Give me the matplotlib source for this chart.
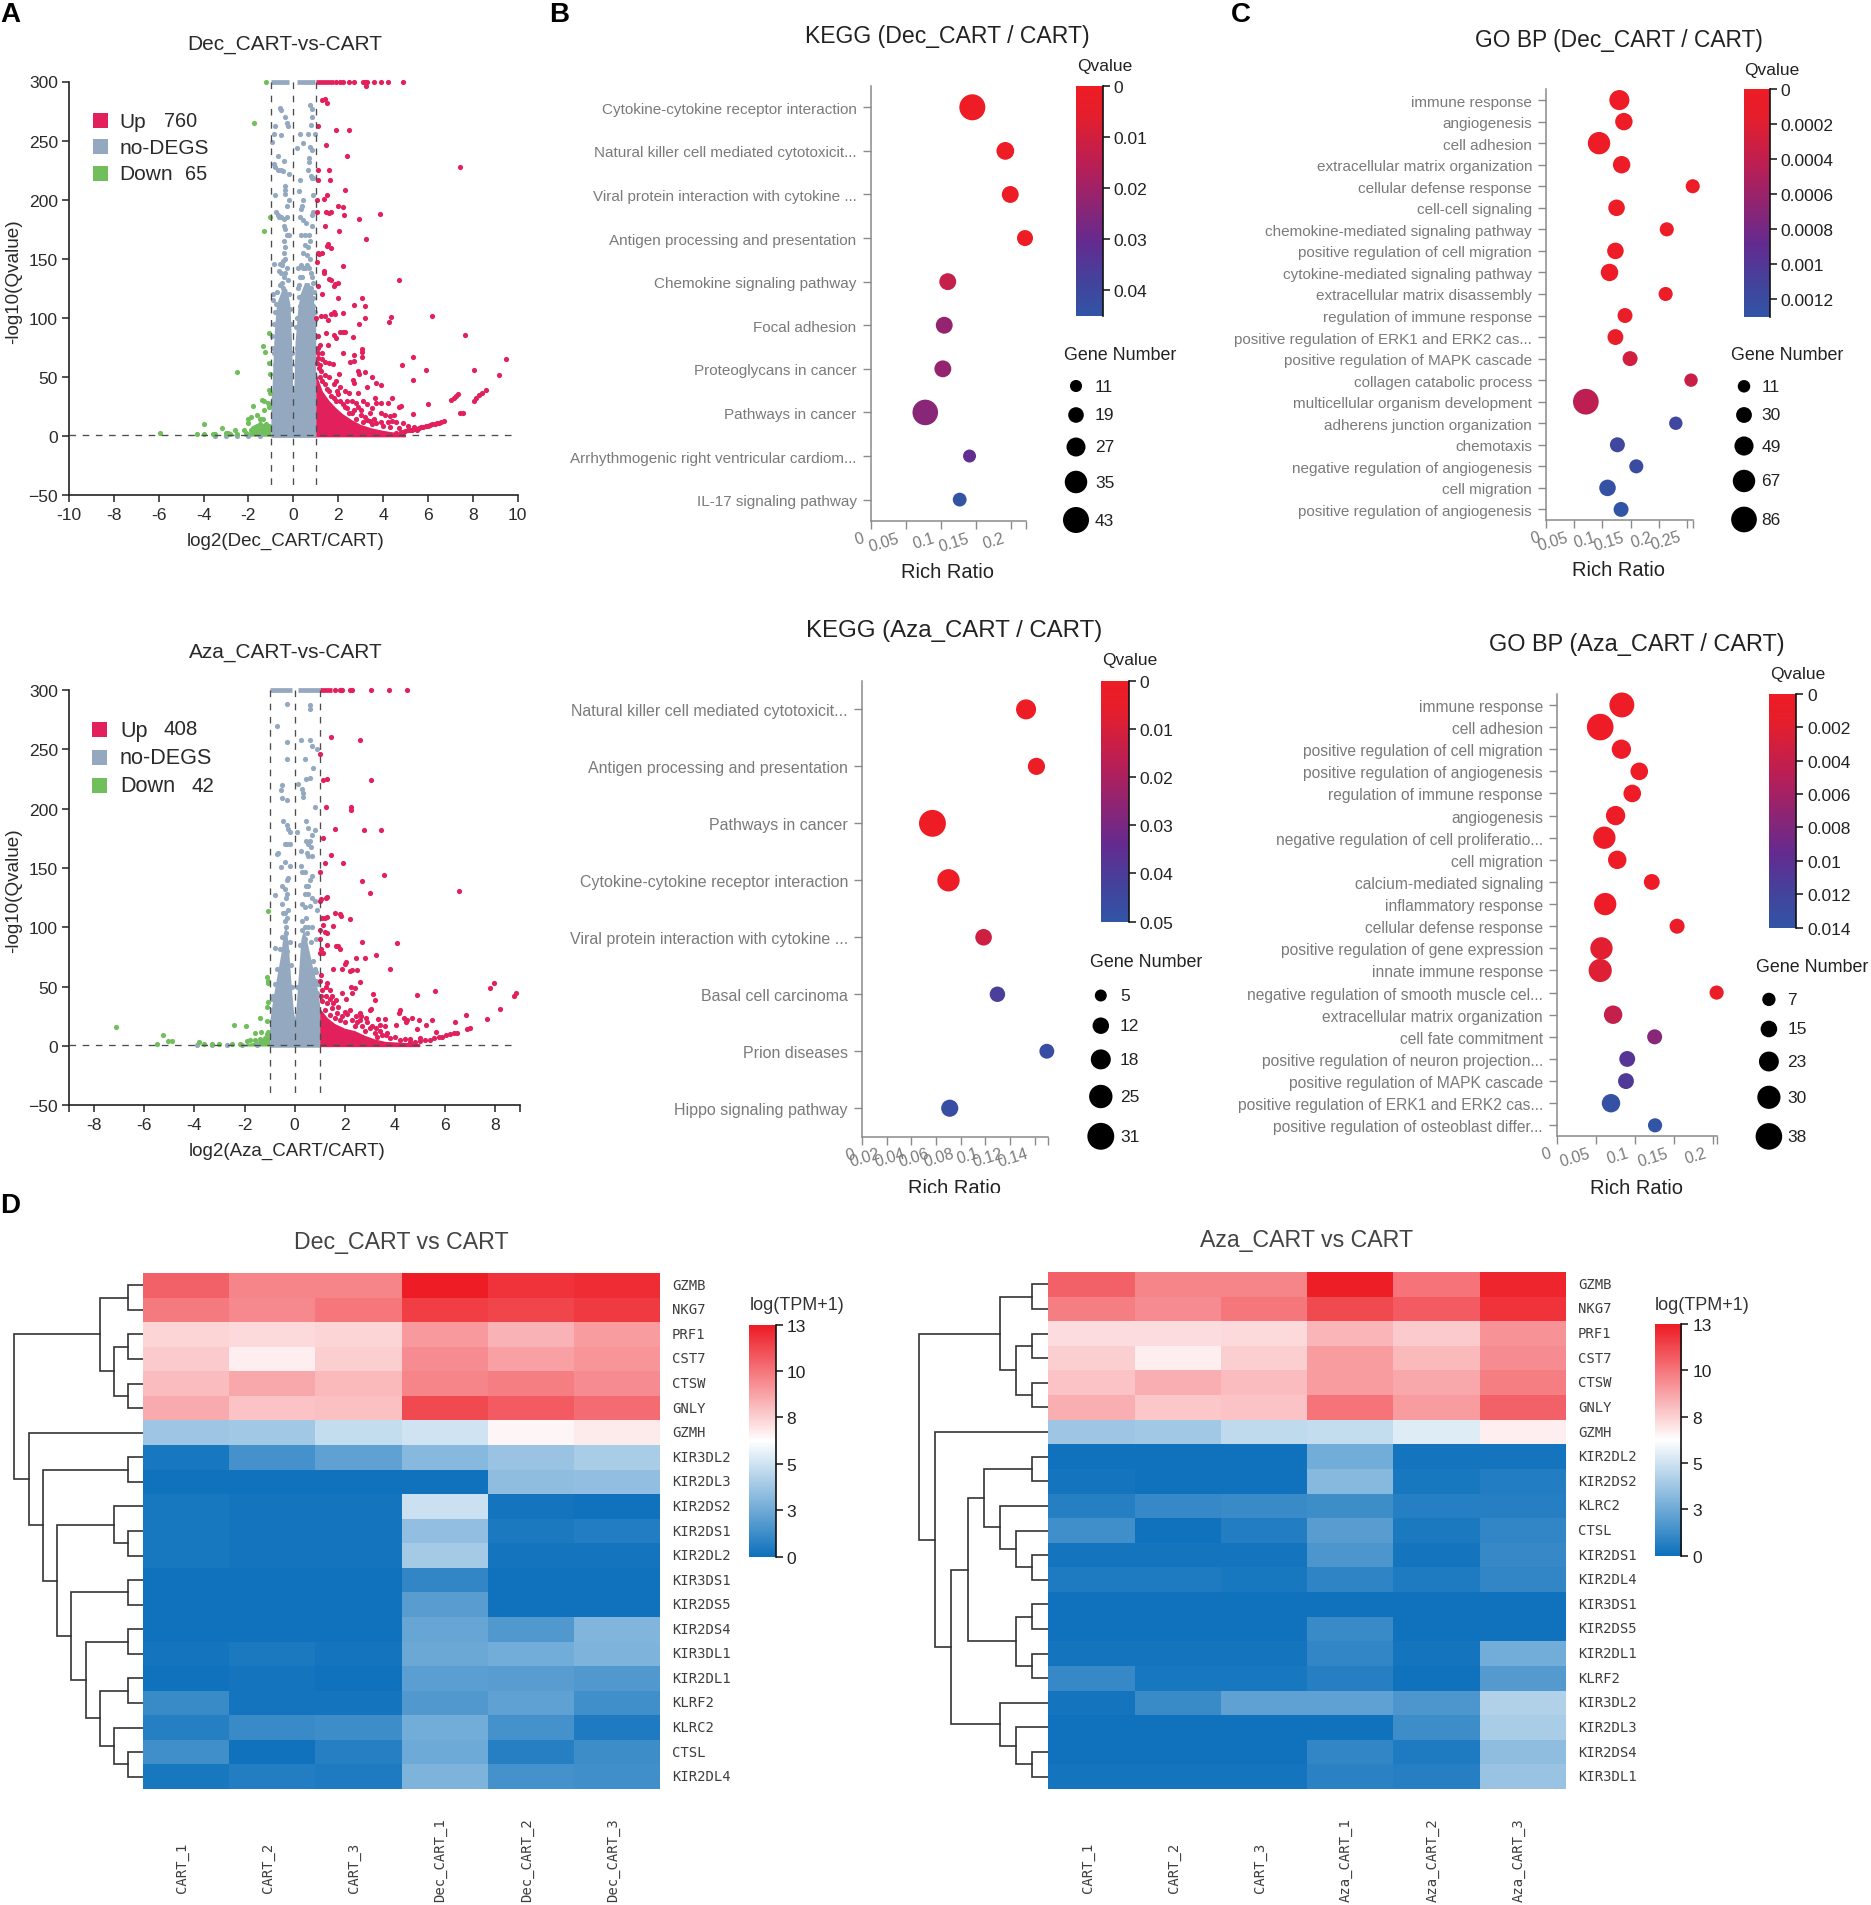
import matplotlib
matplotlib.use('Agg')
import matplotlib.pyplot as plt
import numpy as np
from matplotlib.colors import LinearSegmentedColormap
from matplotlib.patches import Rectangle
from matplotlib.transforms import Bbox

W, H = 1871, 1906
plt.rcParams['font.family'] = ['Liberation Sans', 'DejaVu Sans']

# ---------- volcano data ----------
dec_red = [(3.25,296),(1.3,284),(1.4,285),(1.5,282),(1.1,262),(1.9,259),(2.5,259),(1.45,246),(2.4,237),(7.45,228),(1.1,225),(1.6,225),(1.1,217),(1.65,217),(2.3,208),(1.5,204),(1.35,201),(1.05,200),(2.0,195),(2.2,194),(1.05,190),(1.45,190),(1.6,189),(1.7,190),(2.25,187),(3.88,188),(2.95,184),(1.4,178),(2.05,174),(1.55,163),(1.5,161),(3.25,167),(1.7,159),(1.1,155),(1.15,154),(1.3,155),(1.05,147),(2.2,144),(1.35,140),(1.38,138),(4.7,132),(1.6,133),(1.7,132),(1.85,129),(1.8,127),(2.0,130),(1.1,127),(1.3,120),(2.0,117),(3.07,117),(3.2,110),(2.7,111),(1.25,102),(1.4,102),(1.7,103),(1.8,105),(1.85,103),(2.2,104),(6.2,102),(4.35,101),(3.2,100),(4.25,97),(1.0,100),(1.55,98),(2.95,95),(1.1,85),(1.45,87),(1.8,86),(1.9,83),(2.1,88),(2.2,88),(2.3,88),(7.65,86),(2.65,84),(1.1,75),(1.2,77),(1.55,77),(1.1,70),(1.3,70),(3.07,74),(3.05,71),(3.05,67),(2.2,70),(2.55,63),(2.7,64),(2.7,69),(5.35,67),(9.5,65),(4.85,60),(1.3,65),(1.4,63),(1.6,62),(1.75,61),(8.05,56),(5.9,56),(2.9,55),(2.95,53),(3.2,54),(9.15,52),(2.05,53),(3.5,50),(5.35,48),(3.7,45),(3.9,43),(3.3,42),(2.7,45),(2.65,48),(8.6,39),(8.4,37),(8.3,35),(8.15,32),(8.05,30),(7.35,36),(7.25,34),(7.15,32),(7.05,31),(6.0,27),(3.65,32),(4.4,32),(3.9,28),(4.2,28),(4.8,26),(4.7,25),(4.5,18),(5.35,19),(7.45,20),(7.55,20),
           (4.6,3),(4.8,4),(5.0,4.5),(5.2,5.5),(5.4,6),(5.6,7),(5.8,8),(6.0,9),(6.2,10),(6.4,11),(6.6,12),(6.7,13),(4.9,3.5),(5.1,5),(5.3,5.5),(5.5,6.5),(5.7,7.5),(5.9,8.5),(6.1,9.5),(6.3,10.5),(6.5,11.5),
           (1.05,62),(1.15,58),(1.25,55),(1.4,52),(1.6,50),(1.2,50),(1.8,44),(1.9,47),(2.1,42),(2.3,38),(2.5,37),(2.6,30),(2.9,37),(3.1,30),(3.3,27),(3.5,24),(3.7,28),(3.9,20),(4.1,18),(4.3,17),(4.4,13),(4.6,12),(4.9,11),(5.1,9),(1.6,38),(1.9,30),(2.2,27),(2.4,24),(2.7,22),(3.0,18),(3.2,16),(3.4,13),(3.7,11),(4.0,9),(2.1,30),(2.8,15),(3.5,10),(1.4,44),(2.0,36),(1.7,34),(2.5,20),(3.1,12),(3.9,12),(4.3,8),(4.7,7),(5.4,8),(5.5,5),(1.5,40),(1.3,47),(1.8,32),(2.3,25),(2.6,20),(3.3,14),(3.6,15),(4.2,12),(2.4,30),(2.9,25),(3.4,20),(1.1,66),(1.2,60),(1.95,38),(2.8,28),(3.0,22)]
dec_red_top = [1.9,2.1,2.2,2.5,2.7,3.1,3.2,3.3,3.6,3.9,4.2,4.9]
dec_green = [(-1.2,300),(-1.77,265),(-1.05,185),(-1.3,174),(-1.1,87),(-1.35,76),(-1.25,71),(-1.1,62),(-2.5,54),(-1.05,53),(-1.1,39),(-1.05,37),(-1.4,31),(-1.3,30),(-1.8,26),(-1.15,28),(-1.1,25),(-1.3,22),(-1.9,16),(-1.6,18),(-2.0,15),(-1.5,15),(-1.35,15),(-2.0,11),(-4.0,10),(-5.95,3),(-4.3,2),(-4.0,2),(-3.6,2),(-3.5,1.5),(-3.2,7),(-3.0,3),(-2.9,3),(-2.8,2),(-2.6,5),(-2.5,2),(-2.2,5),(-2.1,3),(-1.9,5),(-1.8,7),(-1.7,8),(-1.6,9),(-1.5,10),(-1.4,9),(-1.3,9),(-1.2,10),(-1.1,9)]
dec_gray = [(-.6,278),(-.55,276),(.75,280),(.85,277),(.85,270),(-.35,270),(-.3,265),(-.25,262),(-.8,262),(.78,263),(-.85,256),(-.55,255),(.3,256),(.65,256),(.95,256),(-.95,249),(.45,248),(.75,245),(.85,242),(.15,244),(-.7,237),(-.4,233),(.7,235),(.72,232),(-.85,230),(-.83,228),(-.7,225),(-.55,225),(-.45,224),(-.2,222),(.65,225),(.8,220),(.85,218),(.9,218),(.3,217),(-.35,212),(-.35,208),(-.35,205),(-.2,200),(.25,207),(.9,204),(-.8,204),(.45,200),(.4,195),(.35,192),(-.3,195),(-.75,190),(-.7,187),(-.65,185),(-.55,185),(-.4,184),(-.3,185),(.9,190),(.85,187),(.3,185),(.45,183),(.55,180),(.85,178),(-.4,178),(-.35,175),(-.3,170),(-.2,170),(.35,170),(.5,170),(.7,170),(.75,165),(.65,160),(.5,162),(.45,155),(.6,153),(.75,150),(-.4,165),(-.38,160),(-.42,155),(-.35,150),(-.85,146),(-.6,146),(-.5,145),(-.3,142),(-.4,135),(-.5,130),(-.45,125),(-.35,120),(-.55,115),(-.4,110),(.2,142),(.35,145),(.45,142),(.85,135),(.9,130),(.8,125),(.7,122),(.55,115),(.5,110),(.35,118),(.9,117),(.25,128),(-.9,120),(-.9,115),(.45,103),(.4,98),(.55,100),(-.5,100),(-.45,105),(-.55,92),(-.95,85),(.6,90),(-.9,75),(-.85,70),(.9,110),(-.8,60),(-.2,80),(-.15,60),(.15,75),(.1,60),(.75,92),(.8,75),(-3.5,.5),(-3,.5),(-2.5,.5),(-2,.5),(-1.5,.5),
            (-.65,140),(-.55,138),(-.45,148),(-.35,138),(-.25,132),(-.6,128),(-.72,122),(-.78,112),(-.82,105),(-.88,95),(-.2,120),(-.15,108),(-.1,95),(-.05,70),(.1,92),(.15,100),(.25,118),(.3,135),(.4,135),(.5,142),(.6,145),(.7,142),(.78,138),(.92,122),(.95,105),(.98,98),(.2,125),(.3,110)]
dec_gray_x = [-1,-.95,-.9,-.85,-.75,-.5,-.3,-.15,-.08,-.03,0,.03,.08,.2,.3,.5,.7,.85,.95,1]
dec_gray_top = [30,40,65,88,112,125,125,112,80,45,35,45,80,108,120,130,130,122,108,90]
dec_red_x = [1,1.1,1.3,1.6,1.9,2.2,2.6,3,3.5,4,4.5,5]
dec_red_env = [55,48,38,30,24,19,14,10,7,5,3.5,2]
dec_green_x = [-2.2,-1.8,-1.5,-1]
dec_green_env = [2,5,8,10]
dec_gray_seg = [(-1,-.2),(.15,.98)]
dec_red_seg = [(1,1.8)]

aza_red = [(1.47,260),(2.6,258),(1.0,246),(1.15,224),(1.3,225),(3.07,224),(1.27,201),(2.27,201),(2.25,199),(1.6,183),(2.78,182),(3.45,182),(1.15,175),(1.45,161),(1.95,154),(1.2,154),(1.0,147),(3.55,144),(2.68,139),(3.0,129),(6.55,131),(1.05,124),(1.25,125),(1.3,126),(1.0,122),(1.6,112),(1.8,111),(1.85,110),(1.1,108),(1.2,108),(1.3,109),(2.2,107),(1.15,102),(1.55,101),(1.0,98),(1.2,96),(1.3,95),(1.0,90),(2.7,88),(4.07,87),(1.3,85),(1.65,84),(1.75,84),(1.8,82),(1.05,82),(1.15,78),(1.0,78),(3.25,77),(2.45,74),(2.8,74),(2.05,71),(2.0,69),(1.55,65),(1.9,65),(2.2,63),(2.3,64),(2.5,64),(3.8,65),(1.05,60),(1.0,55),(1.3,53),(2.6,54),(7.95,53),(2.25,50),(2.4,49),(7.8,49),(1.1,47),(1.25,50),(1.4,47),(1.5,42),(1.9,45),(2.3,45),(3.15,44),(8.85,45),(8.75,42),(5.6,46),(4.9,43),(3.2,39),(1.4,40),(1.65,39),(2.05,40),(3.05,31),(3.0,30),(8.2,31),(4.2,30),(4.15,28),(2.6,28),(2.65,25),(6.85,26),(3.35,23),(3.6,23),(4.35,24),(4.5,22),(4.7,24),(4.95,22),(5.5,22),(7.7,23),(4.45,20),(6.4,20),(3.4,18),(3.6,17),(4.05,18),(5.25,18),(4.9,14),(5.65,12),(7.0,15),(6.9,14),(6.5,11),(6.35,11),(6.2,10),
           (5.0,4),(5.2,5),(5.4,5.5),(5.55,7),(5.75,8),(5.9,8),(6.05,9),(4.6,3),(4.8,3.5),
           (1.1,38),(1.3,36),(1.5,32),(1.7,28),(1.9,25),(2.1,27),(2.3,22),(2.5,20),(2.7,17),(3.0,15),(3.2,11),(3.5,9),(3.8,7),(4.2,5),(1.2,30),(1.6,24),(2.0,20),(2.4,17),(2.8,13),(3.3,8),(1.4,26),(1.8,22),(3.7,11),(1.05,42),(1.25,42),(1.55,36),(2.2,30),(2.6,22),(2.9,20),(3.1,17),(3.4,13),(4.0,8),(4.4,6),(1.75,33),(2.0,29),(2.45,25),(2.85,24),(3.25,15),(3.65,9),(4.6,6),(5.0,7)]
aza_red_top = [1.6,1.8,1.85,1.9,2.2,2.3,3.05,3.75,4.5]
aza_green = [(-7.15,16),(-5.5,2),(-5.25,9),(-5.05,4),(-4.9,4),(-3.8,3),(-3.6,2),(-3.3,2),(-3.0,1.5),(-2.4,18),(-1.95,17),(-1.6,11),(-1.35,12),(-1.4,24),(-1.1,21),(-1.05,114),(-1.1,58),(-1.05,55),(-1.05,53),(-1.05,37),(-1.1,33),(-1.05,12),(-1.1,10),(-1.2,7),(-1.4,6),(-1.6,5),(-1.9,4),(-2.2,2),(-2.5,2),(-1.8,5)]
aza_gray = [(-.3,288),(.6,287),(.62,284),(-.7,270),(.25,258),(.6,258),(-.3,256),(.7,253),(.9,250),(-.3,242),(.42,242),(.75,234),(.6,226),(.45,225),(.15,221),(-.5,220),(-.55,216),(.3,217),(.32,213),(.33,210),(-.5,209),(-.3,207),(.8,201),(-.45,190),(.45,190),(-.3,186),(-.25,183),(-.2,180),(.1,180),(.8,182),(.55,184),(.7,178),(.45,173),(.6,173),(.55,170),(.65,168),(-.4,170),(-.3,170),(-.2,170),(-.7,162),(-.65,163),(.25,164),(.5,163),(.55,160),(.7,160),(-.4,155),(-.2,152),(.25,152),(-.55,151),(.3,147),(.4,147),(.7,143),(.6,140),(.45,135),(.55,135),(-.25,142),(-.3,140),(-.5,135),(-.4,132),(-.3,128),(.4,128),(.55,128),(.7,125),(.8,122),(-.8,127),(-.35,125),(-.5,120),(.3,120),(.4,117),(.6,118),(.9,115),(-.4,112),(-.3,108),(-.35,100),(-.35,95),(.3,105),(.4,100),(.5,95),(.7,100),(.85,90),(-.35,88),(.4,90),(.35,85),(-.8,83),(-.3,80),(-.9,40),(-.85,42),(-.9,30),(.85,55),(.9,45),(-.8,35),(.8,65),(.7,60),(-3.9,.5),(-3.3,.5),(-2.7,.5),(-2.1,.5),(-1.5,.5),
            (-.45,112),(-.25,115),(-.4,105),(-.5,92),(-.6,82),(-.7,65),(-.78,52),(-.2,88),(-.15,68),(-.1,50),(.1,50),(.2,85),(.3,98),(.45,108),(.55,100),(.65,88),(.75,72),(.85,62),(.92,52)]
aza_gray_x = [-1,-.95,-.85,-.7,-.55,-.45,-.35,-.25,-.15,-.05,0,.05,.15,.25,.35,.45,.6,.7,.85,.95,1]
aza_gray_top = [20,28,42,60,78,95,102,85,55,30,24,30,60,90,98,92,78,68,55,42,35]
aza_red_x = [1,1.3,1.6,2,2.4,2.8,3.2,3.6,4,4.5,5]
aza_red_env = [32,24,19,15,13,9,6,4,3.5,3,2]
aza_green_x = [-2,-1.5,-1]
aza_green_env = [1.5,4,9]
aza_gray_seg = [(-1,-.1),(.15,1)]
aza_red_seg = [(1,1.5)]

# ---------- enrichment data ----------
kegg_dec_terms = ['Cytokine-cytokine receptor interaction','Natural killer cell mediated cytotoxicit...','Viral protein interaction with cytokine ...','Antigen processing and presentation','Chemokine signaling pathway','Focal adhesion','Proteoglycans in cancer','Pathways in cancer','Arrhythmogenic right ventricular cardiom...','IL-17 signaling pathway']
kegg_dec_ratio = [.145,.192,.199,.22,.11,.105,.103,.078,.141,.127]
kegg_dec_gene = [43,24,22,20,22,22,22,42,13,15]
kegg_dec_q = [.0005,.0005,.0005,.0005,.013,.022,.022,.024,.031,.044]

kegg_aza_terms = ['Natural killer cell mediated cytotoxicit...','Antigen processing and presentation','Pathways in cancer','Cytokine-cytokine receptor interaction','Viral protein interaction with cytokine ...','Basal cell carcinoma','Prion diseases','Hippo signaling pathway']
kegg_aza_ratio = [.133,.1414,.0572,.0702,.0986,.1098,.1498,.0712]
kegg_aza_gene = [19,14,31,23,13,11,10,14]
kegg_aza_q = [.0005,.002,.0005,.0005,.012,.041,.047,.047]

go_dec_terms = ['immune response','angiogenesis','cell adhesion','extracellular matrix organization','cellular defense response','cell-cell signaling','chemokine-mediated signaling pathway','positive regulation of cell migration','cytokine-mediated signaling pathway','extracellular matrix disassembly','regulation of immune response','positive regulation of ERK1 and ERK2 cas...','positive regulation of MAPK cascade','collagen catabolic process','multicellular organism development','adherens junction organization','chemotaxis','negative regulation of angiogenesis','cell migration','positive regulation of angiogenesis']
go_dec_ratio = [.130,.138,.094,.134,.260,.125,.214,.123,.1125,.212,.140,.123,.149,.257,.0706,.230,.1265,.160,.109,.133]
go_dec_gene = [54,39,67,39,20,34,20,34,39,20,25,30,25,16,86,16,25,20,34,25]
go_dec_q = [.00002,.00002,.00002,.00002,.00005,.00002,.00005,.00002,.00002,.00005,.0001,.0001,.0003,.00035,.00042,.00115,.00115,.0012,.00125,.0013]

go_aza_terms = ['immune response','cell adhesion','positive regulation of cell migration','positive regulation of angiogenesis','regulation of immune response','angiogenesis','negative regulation of cell proliferatio...','cell migration','calcium-mediated signaling','inflammatory response','cellular defense response','positive regulation of gene expression','innate immune response','negative regulation of smooth muscle cel...','extracellular matrix organization','cell fate commitment','positive regulation of neuron projection...','positive regulation of MAPK cascade','positive regulation of ERK1 and ERK2 cas...','positive regulation of osteoblast differ...']
go_aza_ratio = [.083,.0553,.0824,.1053,.0963,.075,.0606,.0771,.1213,.0617,.1537,.0569,.0553,.2043,.0718,.125,.0899,.0883,.0691,.1255]
go_aza_gene = [34,38,21,17,17,21,28,19,13,28,11,28,30,9,19,11,13,13,19,9]
go_aza_q = [.0002,.0002,.0002,.0002,.0002,.0002,.0002,.0002,.0003,.0002,.0008,.002,.0022,.001,.004,.0075,.0105,.011,.0135,.0138]

# ---------- heatmap data ----------
dec_genes = ['GZMB','NKG7','PRF1','CST7','CTSW','GNLY','GZMH','KIR3DL2','KIR2DL3','KIR2DS2','KIR2DS1','KIR2DL2','KIR3DS1','KIR2DS5','KIR2DS4','KIR3DL1','KIR2DL1','KLRF2','KLRC2','CTSL','KIR2DL4']
dec_cols = ['CART_1','CART_2','CART_3','Dec_CART_1','Dec_CART_2','Dec_CART_3']
dec_heat = [[11,10,10,13,12.3,12.5],[10.3,9.9,10.4,12,11.8,12.1],[7.7,7.6,7.7,9.4,8.7,9.3],[8,7,7.9,9.8,9.2,9.5],[8.4,9,8.5,10,10.2,9.8],[8.9,8.2,8.3,11.7,11.2,10.7],[3.9,4,4.9,5.2,6.8,7.1],
            [.3,1.5,2.2,3.3,3.8,4.2],[.1,.1,.1,.1,3.5,3.6],[.3,.2,.2,5.1,.2,.1],[.3,.2,.2,3.6,.4,.6],[.3,.2,.2,4.1,.2,.2],[.1,.1,.1,1,.1,.1],[.1,.1,.1,2,.1,.1],[.1,.1,.1,2.4,1.8,3.1],[.2,.4,.2,2.5,2.7,3],[.1,.2,.1,2.1,2,1.8],[1.2,.2,.2,1.8,2.2,1.4],[.7,1.2,1.3,2.7,1.5,.5],[1.4,.1,.7,2.6,.7,1.3],[.3,.6,.5,3,1.5,1.4]]
# merges: (node a, node b, height); node >= 21 is an earlier merge
dec_tree = [(0,1,26),(2,3,26),(4,5,26),(22,23,51),(21,24,77),(7,8,26),(10,11,26),(9,27,51),(12,13,26),(14,15,26),(16,17,26),(19,20,26),(18,32,51),(31,33,77),(30,34,102),(29,35,128),(28,36,153),(26,37,179),(6,38,204),(25,39,230)]

aza_genes = ['GZMB','NKG7','PRF1','CST7','CTSW','GNLY','GZMH','KIR2DL2','KIR2DS2','KLRC2','CTSL','KIR2DS1','KIR2DL4','KIR3DS1','KIR2DS5','KIR2DL1','KLRF2','KIR3DL2','KIR2DL3','KIR2DS4','KIR3DL1']
aza_cols = ['CART_1','CART_2','CART_3','Aza_CART_1','Aza_CART_2','Aza_CART_3']
aza_heat = [[11,10,10,12.9,10.5,12.7],[10.2,9.8,10.4,11.7,11.2,12.3],[7.5,7.5,7.6,8.6,8,9.6],[7.9,7,7.9,9.3,8.5,9.8],[8.2,8.8,8.4,9.3,9,10.2],[8.8,8.1,8.2,10.5,9.3,11],[3.9,4,4.8,4.9,5.6,7],
            [.1,.1,.1,2.7,.2,.2],[.2,.1,.1,3.3,.3,.6],[.7,1.1,1.2,1.3,.7,.7],[1.4,.1,.6,2,.4,1],[.2,.2,.2,1.7,.2,1.1],[.5,.5,.3,.9,.5,1],[.1,.1,.1,.1,.1,.1],[.1,.1,.1,1.2,.1,.1],[.2,.2,.2,1,.2,2.7],[1.1,.3,.3,.7,.1,1.9],[.2,1.2,2.2,2.2,1.7,4.4],[.1,.1,.1,.1,1.3,4.2],[.1,.1,.1,1,.5,3.5],[.2,.2,.2,.8,.7,3.8]]
aza_tree = [(0,1,29),(2,3,29),(4,5,29),(22,23,57),(21,24,86),(7,8,29),(11,12,29),(10,27,57),(9,28,86),(26,29,115),(13,14,29),(15,16,29),(31,32,57),(30,33,144),(19,20,29),(18,35,57),(17,36,86),(34,37,173),(6,38,202),(25,39,231)]

RED, GRAY, GREEN = '#e2205c', '#94a9c0', '#71bf5c'
TXT = '#2a2a2a'
q_cmap = LinearSegmentedColormap.from_list('q', [(0,'#ee1c25'),(.12,'#e61f2c'),(.35,'#b81f57'),(.68,'#642b90'),(.85,'#44439c'),(1,'#3155a6')])
heat_cmap = LinearSegmentedColormap.from_list('h', ['#0e71bc','#ffffff','#ee1c25'])

fig = plt.figure(figsize=(W/100, H/100), dpi=100, facecolor='white')


def px_axes(x0, y0, x1, y1):
    return fig.add_axes([x0/W, 1-y1/H, (x1-x0)/W, (y1-y0)/H])


def px_text(x, y, s, **kw):
    kw.setdefault('ha', 'center')
    kw.setdefault('va', 'center')
    return fig.text(x/W, 1-y/H, s, **kw)


def volcano(box, xlim, xticks, xticklabels, title, title_xy, xlabel, xlabel_xy, ylabel_y, red, red_top, green, gray,
            gx, gtop, rx, renv, grx, grenv, gseg, rseg, legend, hline_end):
    ax = px_axes(*box)
    ax.set_xlim(*xlim)
    ax.set_ylim(-50, 300)
    ax.fill_between(gx, -1, gtop, color=GRAY, lw=0, zorder=1)
    ax.fill_between(grx, 0, grenv, color=GREEN, lw=0, zorder=2)
    ax.fill_between(rx, -0.5, renv, color=RED, lw=0, zorder=2)
    for s in gseg:
        ax.hlines(300, s[0], s[1], color=GRAY, lw=3.4, zorder=2, clip_on=False)
    for s in rseg:
        ax.hlines(300, s[0], s[1], color=RED, lw=3.4, zorder=2, clip_on=False)
    pts = np.array(gray)
    ax.scatter(pts[:,0], pts[:,1], s=14, c=GRAY, lw=0, zorder=2, clip_on=False)
    pts = np.array(green)
    ax.scatter(pts[:,0], pts[:,1], s=14, c=GREEN, lw=0, zorder=3, clip_on=False)
    pts = np.array(red)
    ax.scatter(pts[:,0], pts[:,1], s=14, c=RED, lw=0, zorder=3, clip_on=False)
    ax.scatter(red_top, [300]*len(red_top), s=14, c=RED, lw=0, zorder=3, clip_on=False)
    for v in (-1, 0, 1):
        ax.plot([v, v], [300, -45], color='#4c4c4c', lw=0.95, dashes=(5, 5), zorder=5)
    ax.plot([xlim[0], hline_end], [1.3, 1.3], color='#4c4c4c', lw=0.95, dashes=(5, 5), zorder=5)
    for s in ('top', 'right'):
        ax.spines[s].set_visible(False)
    for s in ('left', 'bottom'):
        ax.spines[s].set_linewidth(1.2)
        ax.spines[s].set_color('#222222')
    ax.set_xticks(xticks)
    ax.set_xticklabels(xticklabels, fontsize=12.6, color=TXT)
    ax.set_yticks(range(-50, 301, 50))
    ax.tick_params(axis='both', length=5, width=1.1, color='#222222', labelsize=12.6, labelcolor=TXT, pad=3)
    px_text(title_xy[0], title_xy[1], title, fontsize=15, color=TXT)
    px_text(xlabel_xy[0], xlabel_xy[1], xlabel, fontsize=13.5, color=TXT)
    px_text(14, ylabel_y, '-log10(Qvalue)', fontsize=13.6, color=TXT, rotation=90)
    sq0, sq1, tx, ys, vals, fs = legend
    names = ['Up', 'no-DEGS', 'Down']
    for nm, c, y, v in zip(names, [RED, GRAY, GREEN], ys, vals):
        fig.add_artist(Rectangle((sq0/W, 1-(y+7.5)/H), (sq1-sq0)/W, 15/H, transform=fig.transFigure, color=c, lw=0))
        px_text(tx, y+1, nm, fontsize=fs, ha='left', color=TXT)
        if v is not None:
            px_text(v[0], y, v[1], fontsize=fs-0.7, ha='left', color=TXT)


def gene_diam(g, g_leg, d_leg):
    return d_leg[0] + (np.array(g, dtype=float)-g_leg[0])*(d_leg[-1]-d_leg[0])/(g_leg[-1]-g_leg[0])


def bubble(box, xmax, xticks, xticklabels, terms, term_fs, ratio, gene, q, qmax, title, title_fs, title_xy, rich_xy, tick_q, cbar, q_xy,
           gn_xy, g_leg, d_leg, leg_x, leg_ys, leg_lx, clip_bottom=None):
    ax = px_axes(*box)
    n = len(terms)
    ax.set_xlim(0, xmax)
    ax.set_ylim(n-.5, -.5)
    ypos = np.arange(n)
    d = gene_diam(gene, g_leg, d_leg)
    ax.scatter(ratio, ypos, s=(d*.72)**2, c=q, cmap=q_cmap, vmin=0, vmax=qmax, lw=0, clip_on=False, zorder=3)
    for s in ('top', 'right'):
        ax.spines[s].set_visible(False)
    for s in ('left', 'bottom'):
        ax.spines[s].set_color('#8a8a8a')
        ax.spines[s].set_linewidth(1.1)
    ax.set_yticks(ypos)
    ax.set_yticklabels(terms, fontsize=term_fs, color='#7a7a7a')
    ax.set_xticks(list(xticks)+[xmax])
    ax.set_xticklabels([])
    for v, s in zip(xticks, xticklabels):
        ax.annotate(s, (v, 0), xycoords=('data', 'axes fraction'), xytext=(-5, -11.5), textcoords='offset points',
                    fontsize=11.4, color='#7a7a7a', rotation=17, ha='right', va='center', rotation_mode='anchor')
    ax.tick_params(axis='y', length=6, width=1, color='#8a8a8a', pad=4)
    ax.tick_params(axis='x', length=6, width=1, color='#8a8a8a')
    px_text(title_xy[0], title_xy[1], title, fontsize=title_fs, color='#222222')
    t = px_text(rich_xy[0], rich_xy[1], 'Rich Ratio', fontsize=14.5, color='#222222')
    if clip_bottom is not None:
        t.set_clip_box(Bbox.from_extents(0, H-clip_bottom, W, H))
        t.set_clip_on(True)
    cax = px_axes(*cbar)
    grad = np.linspace(0, 1, 256).reshape(-1, 1)
    cax.imshow(grad, aspect='auto', cmap=q_cmap, extent=(0, 1, qmax, 0))
    cax.set_xticks([])
    cax.yaxis.tick_right()
    cax.set_yticks([v for v, _ in tick_q])
    cax.set_yticklabels([s for _, s in tick_q], fontsize=12.5, color='#222222')
    cax.tick_params(axis='y', length=5, width=1.1, color='#111111', pad=3)
    for s in ('top', 'left', 'bottom'):
        cax.spines[s].set_visible(False)
    cax.spines['right'].set_color('#111111')
    cax.spines['right'].set_linewidth(1.2)
    px_text(q_xy[0], q_xy[1], 'Qvalue', fontsize=12.5, color='#222222')
    px_text(gn_xy[0], gn_xy[1], 'Gene Number', fontsize=12.9, color='#222222')
    lax = fig.add_axes([0, 0, 1, 1], facecolor='none')
    lax.set_xlim(0, W)
    lax.set_ylim(H, 0)
    lax.axis('off')
    lax.scatter([leg_x]*len(g_leg), leg_ys, s=(np.array(d_leg)*.72)**2, c='black', lw=0)
    for g, y in zip(g_leg, leg_ys):
        px_text(leg_lx, y, str(g), ha='left', fontsize=12.5, color='#222222')


def heatmap(box, dbox_left, genes, cols, vals, tree, title, title_xy, cbar, cb_title_xy, col_bottom):
    x0, y0, x1, y1 = box
    ax = px_axes(*box)
    data = np.array(vals)
    ax.pcolormesh(np.arange(7), np.arange(22), data, cmap=heat_cmap, vmin=0, vmax=13, edgecolors='none', rasterized=False)
    ax.set_ylim(21, 0)
    ax.axis('off')
    cw = (x1-x0)/6
    for i, g in enumerate(genes):
        px_text(x1+12, y0+(i+.5)*(y1-y0)/21-.5, g, ha='left', family='DejaVu Sans Mono', fontsize=10, color='#3e3e3e')
    for j, c in enumerate(cols):
        px_text(x0+(j+.5)*cw-4, col_bottom[0] if len(c) < 7 else col_bottom[1], c, rotation=90, va='bottom',
                family='DejaVu Sans Mono', fontsize=10, color='#3e3e3e')
    dax = px_axes(dbox_left, y0, x0, y1)
    dax.set_xlim(240, 0)
    dax.set_ylim(21, 0)
    dax.axis('off')
    node_y = {i: i+.5 for i in range(21)}
    node_h = {i: 0 for i in range(21)}
    for k, (a, b, h) in enumerate(tree):
        dax.plot([node_h[a], h, h, node_h[b]], [node_y[a], node_y[a], node_y[b], node_y[b]], color='#333333', lw=1.2, solid_joinstyle='miter')
        node_y[21+k] = (node_y[a]+node_y[b])/2
        node_h[21+k] = h
    px_text(title_xy[0], title_xy[1], title, fontsize=16.7, color='#444444')
    cax = px_axes(*cbar)
    grad = np.linspace(0, 1, 256).reshape(-1, 1)
    cax.imshow(grad, aspect='auto', cmap=heat_cmap, extent=(0, 1, 0, 13), origin='lower')
    cax.set_xticks([])
    cax.yaxis.tick_right()
    tk = [0, 2.6, 5.2, 7.8, 10.4, 13]
    cax.set_yticks(tk)
    cax.set_yticklabels(['0', '3', '5', '8', '10', '13'], fontsize=12.5, color='#222222')
    cax.tick_params(axis='y', length=5, width=1.1, color='#111111', pad=3)
    for s in ('top', 'left', 'bottom'):
        cax.spines[s].set_visible(False)
    cax.spines['right'].set_color('#111111')
    cax.spines['right'].set_linewidth(1.2)
    px_text(cb_title_xy[0], cb_title_xy[1], 'log(TPM+1)', fontsize=13, color='#333333')


# A
volcano((69, 82.5, 517.6, 496.4), (-10, 10), range(-10, 11, 2), [str(v) for v in range(-10, 11, 2)],
        'Dec_CART-vs-CART', (284.5, 45), 'log2(Dec_CART/CART)', (286, 541), 282,
        dec_red, dec_red_top, dec_green, dec_gray, dec_gray_x, dec_gray_top, dec_red_x, dec_red_env,
        dec_green_x, dec_green_env, dec_gray_seg, dec_red_seg,
        (93, 108, 119.5, (121.4, 147.5, 174), [(163.6, '760'), None, (185, '65')], 15), 9.8)
volcano((69.2, 691, 520, 1106.4), (-9, 9), [-9, -8, -6, -4, -2, 0, 2, 4, 6, 8, 9], ['', '-8', '-6', '-4', '-2', '0', '2', '4', '6', '8', ''],
        'Aza_CART-vs-CART', (285.5, 653), 'log2(Aza_CART/CART)', (287.6, 1151), 891,
        aza_red, aza_red_top, aza_green, aza_gray, aza_gray_x, aza_gray_top, aza_red_x, aza_red_env,
        aza_green_x, aza_green_env, aza_gray_seg, aza_red_seg,
        (91.6, 107.4, 120, (730, 758, 786), [(163, '408'), None, (191, '42')], 15.6), 8.8)

# B
bubble((870.5, 86.5, 1025.7, 522.4), .221, [0, .05, .1, .15, .2], ['0', '0.05', '0.1', '0.15', '0.2'],
       kegg_dec_terms, 11, kegg_dec_ratio, kegg_dec_gene, kegg_dec_q, .045, 'KEGG (Dec_CART / CART)', 16.6, (947.7, 37), (947.7, 573),
       [(0, '0'), (.01, '0.01'), (.02, '0.02'), (.03, '0.03'), (.04, '0.04')], (1076, 86.5, 1102.5, 316.5), (1104.7, 66.6),
       (1120, 355), [11, 19, 27, 35, 43], [12.1, 15.6, 19, 22.5, 26], 1076, [387, 416, 448, 483, 521], 1095)
bubble((861.8, 681.9, 1048.3, 1137.7), .151, [0, .02, .04, .06, .08, .1, .12, .14], ['0', '0.02', '0.04', '0.06', '0.08', '0.1', '0.12', '0.14'],
       kegg_aza_terms, 11.55, kegg_aza_ratio, kegg_aza_gene, kegg_aza_q, .05, 'KEGG (Aza_CART / CART)', 17.3, (954, 630.6), (954, 1189),
       [(0, '0'), (.01, '0.01'), (.02, '0.02'), (.03, '0.03'), (.04, '0.04'), (.05, '0.05')], (1100.8, 681.9, 1128.5, 922.6), (1130, 661),
       (1146, 963), [5, 12, 18, 25, 31], [12, 16.5, 20, 23.4, 26.9], 1100.8, [996.5, 1026.7, 1060.4, 1097.5, 1137.3], 1120, clip_bottom=1194)

# C
bubble((1546, 90.3, 1693.3, 521.2), .261, [0, .05, .1, .15, .2, .25], ['0', '0.05', '0.1', '0.15', '0.2', '0.25'],
       go_dec_terms, 11, go_dec_ratio, go_dec_gene, go_dec_q, .0013, 'GO BP (Dec_CART / CART)', 16.4, (1618.6, 41), (1618.6, 571),
       [(0, '0'), (.0002, '0.0002'), (.0004, '0.0004'), (.0006, '0.0006'), (.0008, '0.0008'), (.001, '0.001'), (.0012, '0.0012')],
       (1744, 90.3, 1769.7, 318), (1771.8, 70), (1787, 356), [11, 30, 49, 67, 86], [12.5, 15.8, 19.1, 22.4, 25.7], 1744,
       [387.3, 416, 447, 482, 520.5], 1761.4)
bubble((1557, 694.9, 1717.4, 1137.4), .2053, [0, .05, .1, .15, .2], ['0', '0.05', '0.1', '0.15', '0.2'],
       go_aza_terms, 11.25, go_aza_ratio, go_aza_gene, go_aza_q, .014, 'GO BP (Aza_CART / CART)', 16.9, (1636.4, 644.8), (1636.4, 1189),
       [(0, '0'), (.002, '0.002'), (.004, '0.004'), (.006, '0.006'), (.008, '0.008'), (.01, '0.01'), (.012, '0.012'), (.014, '0.014')],
       (1768.9, 694.9, 1795.9, 928.6), (1797.5, 674.6), (1812.5, 968), [7, 15, 23, 30, 38], [13.3, 16.6, 19.9, 23.2, 26.6], 1768.9,
       [1000.4, 1030, 1062.5, 1098.3, 1137.4], 1787.6)

# D
heatmap((143, 1274, 660, 1790), 8.3, dec_genes, dec_cols, dec_heat, dec_tree, 'Dec_CART vs CART', (401.8, 1242.5),
        (749, 1325.6, 775.6, 1557.6), (797, 1306), (1893, 1902))
heatmap((1048.4, 1273, 1565.8, 1790), 913.7, aza_genes, aza_cols, aza_heat, aza_tree, 'Aza_CART vs CART', (1306.5, 1241),
        (1655, 1325, 1681.4, 1556.7), (1702, 1305), (1893, 1902))

for s, x, y in [('A', 0, 15), ('B', 549, 15), ('C', 1231, 15), ('D', 0, 1206)]:
    px_text(x, y, s, ha='left', fontsize=20, fontweight='bold', color='black')

fig.savefig('out.png', dpi=100)
